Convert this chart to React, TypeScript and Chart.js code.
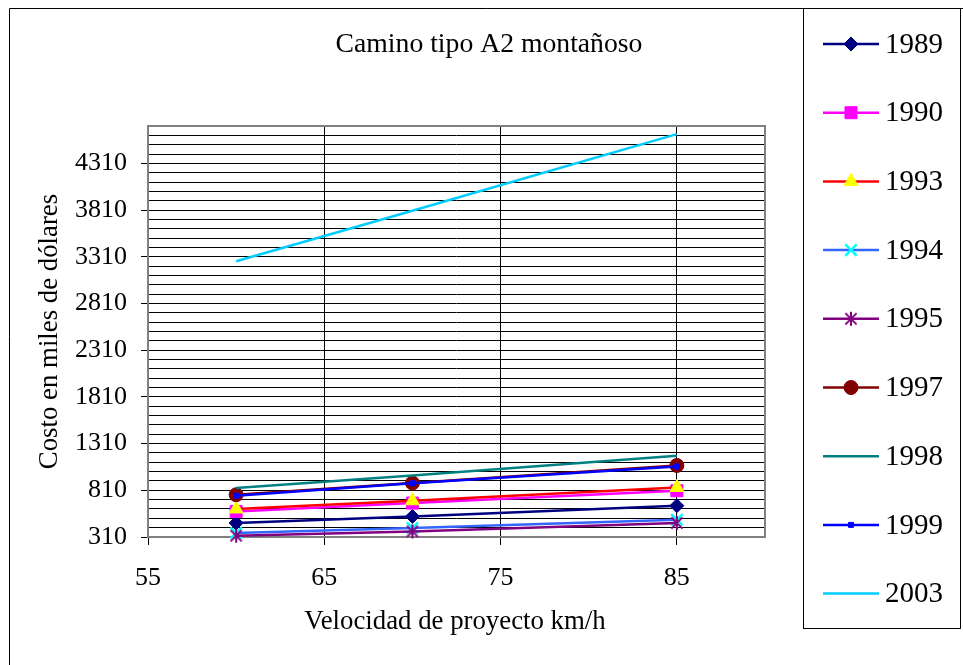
import React, { useEffect, useRef } from 'react';
import { Chart, registerables } from 'chart.js';

Chart.register(...registerables);

// ---- data ----
const speeds = [60, 70, 85];
const years = ['1989', '1990', '1993', '1994', '1995', '1997', '1998', '1999', '2003'];
const s1989 = [460, 530, 645];
const s1990 = [584, 673, 805];
const s1993 = [610, 698, 840];
const s1994 = [353, 406, 495];
const s1995 = [324, 370, 460];
const s1997 = [762, 888, 1076];
const s1998 = [834, 969, 1180];
const s1999 = [752, 885, 1065];
const s2003 = [3262, 3803, 4623];
const seriesValues = [s1989, s1990, s1993, s1994, s1995, s1997, s1998, s1999, s2003];

const yMin = 310;
const yMax = 4710;
const yMinorStep = 100;
const yTickLabels = [310, 810, 1310, 1810, 2310, 2810, 3310, 3810, 4310];
const xMin = 55;
const xMax = 90;
const xTickLabels = [55, 65, 75, 85];

const title = 'Camino tipo A2 montañoso';
const xTitle = 'Velocidad de proyecto km/h';
const yTitle = 'Costo en miles de dólares';

const FONT = "'Liberation Serif', 'Times New Roman', serif";

function makeAsterisk(color: string, size: number) {
  const c = document.createElement('canvas');
  c.width = size;
  c.height = size;
  const g = c.getContext('2d')!;
  g.strokeStyle = color;
  g.lineWidth = 2;
  const m = size / 2;
  const r = size / 2 - 1;
  g.beginPath();
  g.moveTo(m, m - r);
  g.lineTo(m, m + r);
  g.moveTo(m - r * 0.8, m - r * 0.8);
  g.lineTo(m + r * 0.8, m + r * 0.8);
  g.moveTo(m + r * 0.8, m - r * 0.8);
  g.lineTo(m - r * 0.8, m + r * 0.8);
  g.stroke();
  return c;
}

type Style = {
  line: string;
  pointStyle: any;
  fill: string;
  stroke: string;
  radius: number;
  bw: number;
};

function buildStyles(): Style[] {
  return [
    { line: '#000080', pointStyle: 'rectRot', fill: '#000080', stroke: '#000080', radius: 7, bw: 1 },
    { line: '#FF00FF', pointStyle: 'rect', fill: '#FF00FF', stroke: '#FF00FF', radius: 8.5, bw: 1 },
    { line: '#FF0000', pointStyle: 'triangle', fill: '#FFFF00', stroke: '#FFFF00', radius: 8, bw: 1 },
    { line: '#3366FF', pointStyle: 'crossRot', fill: '#00FFFF', stroke: '#00FFFF', radius: 8, bw: 2.5 },
    { line: '#800080', pointStyle: makeAsterisk('#800080', 16), fill: '#800080', stroke: '#800080', radius: 8, bw: 2 },
    { line: '#800000', pointStyle: 'circle', fill: '#800000', stroke: '#800000', radius: 7, bw: 1 },
    { line: '#008080', pointStyle: false, fill: '#008080', stroke: '#008080', radius: 0, bw: 1 },
    { line: '#0000FF', pointStyle: 'rect', fill: '#0000FF', stroke: '#0000FF', radius: 3.5, bw: 1 },
    { line: '#00CCFF', pointStyle: false, fill: '#00CCFF', stroke: '#00CCFF', radius: 0, bw: 1 },
  ];
}

function drawMarker(ctx: CanvasRenderingContext2D, st: Style, x: number, y: number) {
  if (!st.pointStyle || st.radius <= 0) return;
  const r = st.radius;
  ctx.save();
  ctx.fillStyle = st.fill;
  ctx.strokeStyle = st.stroke;
  ctx.lineWidth = st.bw;
  if (typeof st.pointStyle !== 'string') {
    const img = st.pointStyle as HTMLCanvasElement;
    ctx.drawImage(img, x - img.width / 2, y - img.height / 2);
    ctx.restore();
    return;
  }
  ctx.beginPath();
  switch (st.pointStyle) {
    case 'circle':
      ctx.arc(x, y, r, 0, Math.PI * 2);
      ctx.fill();
      ctx.stroke();
      break;
    case 'rect': {
      const s = Math.SQRT1_2 * r;
      ctx.rect(x - s, y - s, 2 * s, 2 * s);
      ctx.fill();
      ctx.stroke();
      break;
    }
    case 'rectRot':
      ctx.moveTo(x, y - r);
      ctx.lineTo(x + r, y);
      ctx.lineTo(x, y + r);
      ctx.lineTo(x - r, y);
      ctx.closePath();
      ctx.fill();
      ctx.stroke();
      break;
    case 'triangle': {
      const h = r * 1.5;
      const w = r * Math.sqrt(3);
      ctx.moveTo(x, y - (2 * h) / 3);
      ctx.lineTo(x + w / 2, y + h / 3);
      ctx.lineTo(x - w / 2, y + h / 3);
      ctx.closePath();
      ctx.fill();
      ctx.stroke();
      break;
    }
    case 'crossRot': {
      const d = Math.SQRT1_2 * r;
      ctx.moveTo(x - d, y - d);
      ctx.lineTo(x + d, y + d);
      ctx.moveTo(x + d, y - d);
      ctx.lineTo(x - d, y + d);
      ctx.stroke();
      break;
    }
  }
  ctx.restore();
}

export default function App() {
  const ref = useRef<HTMLCanvasElement | null>(null);

  useEffect(() => {
    if (!ref.current) return;
    const styles = buildStyles();

    const datasets = seriesValues.map((vals, i) => {
      const st = styles[i];
      return {
        label: years[i],
        data: speeds.map((x, j) => ({ x, y: vals[j] })),
        borderColor: st.line,
        backgroundColor: st.line,
        borderWidth: 2.5,
        pointStyle: st.pointStyle,
        pointRadius: st.radius,
        pointBackgroundColor: st.fill,
        pointBorderColor: st.stroke,
        pointBorderWidth: st.bw,
        showLine: true,
        tension: 0,
        clip: false as any,
        order: seriesValues.length - i,
      };
    });

    const decor = {
      id: 'decor',
      beforeDatasetsDraw(chart: any) {
        const { ctx, chartArea: a } = chart;
        ctx.save();
        ctx.strokeStyle = '#808080';
        ctx.lineWidth = 2;
        ctx.strokeRect(a.left, a.top, a.right - a.left, a.bottom - a.top);
        ctx.restore();
      },
      afterDraw(chart: any) {
        const { ctx, chartArea: a } = chart;
        ctx.save();
        // outer frame
        ctx.strokeStyle = '#000';
        ctx.lineWidth = 1;
        ctx.beginPath();
        ctx.moveTo(9.5, 665);
        ctx.lineTo(9.5, 8.5);
        ctx.lineTo(963, 8.5);
        ctx.stroke();
        // title
        ctx.fillStyle = '#000';
        ctx.textAlign = 'center';
        ctx.textBaseline = 'middle';
        ctx.font = `27.7px ${FONT}`;
        ctx.fillText(title, 489, 45);
        // x title
        ctx.font = `26.8px ${FONT}`;
        ctx.fillText(xTitle, 455, 622);
        // y title
        ctx.save();
        ctx.translate(50, (a.top + a.bottom) / 2);
        ctx.rotate(-Math.PI / 2);
        ctx.fillText(yTitle, 0, 0);
        ctx.restore();
        // legend box
        ctx.fillStyle = '#fff';
        ctx.fillRect(803.5, 8.5, 157, 620);
        ctx.strokeStyle = '#000';
        ctx.strokeRect(803.5, 8.5, 157, 620);
        const y0 = 44;
        const step = 68.7;
        ctx.font = `29px ${FONT}`;
        ctx.textAlign = 'left';
        years.forEach((yr, i) => {
          const st = styles[i];
          const y = y0 + i * step;
          ctx.strokeStyle = st.line;
          ctx.lineWidth = 2.5;
          ctx.beginPath();
          ctx.moveTo(823, y);
          ctx.lineTo(879, y);
          ctx.stroke();
          drawMarker(ctx, st, 851, y);
          ctx.fillStyle = '#000';
          ctx.fillText(yr, 885, y + 1);
        });
        ctx.restore();
      },
    };

    const chart = new Chart(ref.current, {
      type: 'scatter',
      data: { datasets: datasets as any },
      options: {
        animation: false,
        responsive: false,
        layout: { padding: { left: 0, top: 126, right: 198, bottom: 78 } },
        plugins: {
          legend: { display: false },
          title: { display: false },
          tooltip: { enabled: false },
        },
        scales: {
          x: {
            type: 'linear',
            min: xMin,
            max: xMax,
            afterFit: (s: any) => {
              s.height = 50;
            },
            afterBuildTicks: (s: any) => {
              s.ticks = xTickLabels.map((v) => ({ value: v }));
            },
            ticks: {
              autoSkip: false,
              maxRotation: 0,
              padding: 18,
              color: '#000',
              font: { family: FONT, size: 26 },
              callback: (v: any) => String(v),
            },
            grid: { color: '#000', lineWidth: 1, tickLength: 8, tickColor: '#000' },
            border: { display: false },
          },
          y: {
            type: 'linear',
            min: yMin,
            max: yMax,
            afterFit: (s: any) => {
              s.width = 148;
            },
            afterBuildTicks: (s: any) => {
              const t: any[] = [];
              for (let v = yMin; v <= yMax; v += yMinorStep) t.push({ value: v });
              s.ticks = t;
            },
            ticks: {
              autoSkip: false,
              padding: 14,
              color: '#000',
              font: { family: FONT, size: 26 },
              callback: (v: any) => (yTickLabels.includes(Number(v)) ? String(v) : ''),
            },
            grid: {
              color: '#000',
              lineWidth: 1,
              tickLength: 7,
              tickColor: (c: any) =>
                c.tick && yTickLabels.includes(c.tick.value) ? '#000' : 'rgba(0,0,0,0)',
            },
            border: { display: false },
          },
        },
      },
      plugins: [decor],
    });
    return () => chart.destroy();
  }, []);

  return (
    <div style={{ position: 'fixed', left: 0, top: 0, width: 963, height: 665, background: '#fff' }}>
      <canvas ref={ref} width={963} height={665} style={{ display: 'block' }} />
    </div>
  );
}
